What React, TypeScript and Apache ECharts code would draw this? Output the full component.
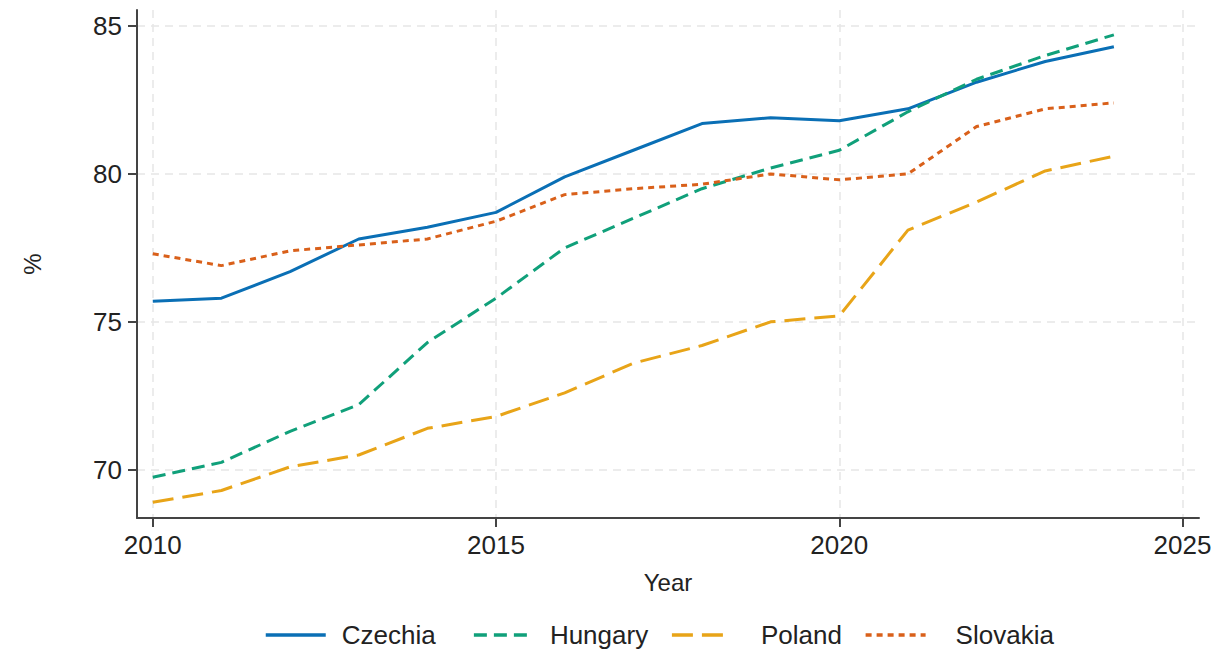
import React, { useEffect, useRef } from "react";
import * as echarts from "echarts";

const years = [2010, 2011, 2012, 2013, 2014, 2015, 2016, 2017, 2018, 2019, 2020, 2021, 2022, 2023, 2024];
const czechia = [75.7, 75.8, 76.7, 77.8, 78.2, 78.7, 79.9, 80.8, 81.7, 81.9, 81.8, 82.2, 83.1, 83.8, 84.3];
const hungary = [69.75, 70.25, 71.3, 72.2, 74.3, 75.8, 77.5, 78.5, 79.5, 80.2, 80.8, 82.1, 83.2, 84.0, 84.7];
const poland = [68.9, 69.3, 70.1, 70.5, 71.4, 71.8, 72.6, 73.6, 74.2, 75.0, 75.2, 78.1, 79.05, 80.1, 80.6];
const slovakia = [77.3, 76.9, 77.4, 77.6, 77.8, 78.4, 79.3, 79.5, 79.65, 80.0, 79.8, 80.0, 81.6, 82.2, 82.4];
const xTicks = [2010, 2015, 2020, 2025];
const yTicks = [70, 75, 80, 85];

const FONT = "'Liberation Sans', Arial, Helvetica, sans-serif";

export default function App() {
  const ref = useRef<HTMLDivElement>(null);
  useEffect(() => {
    if (!ref.current) return;
    const chart = echarts.init(ref.current, undefined, { renderer: "svg" });
    const pair = (arr: number[]) => years.map((y, i) => [y, arr[i]]);
    const mk = (name: string, arr: number[], color: string, type: any) => ({
      name,
      type: "line",
      data: pair(arr),
      symbol: "none",
      showSymbol: false,
      lineStyle: { color, width: 3, type, cap: "butt" },
      itemStyle: { color },
    });
    const trail: Record<string, string> = {
      Czechia: "\u00a0\u00a0",
      Hungary: "",
      Poland: "",
      Slovakia: "",
    };
    const lp = (l: number) => ({ padding: [0, 0, 0, l] });
    chart.setOption({
      animation: false,
      backgroundColor: "#ffffff",
      textStyle: { fontFamily: FONT },
      grid: { left: 137, right: 33, top: 10, bottom: 137, containLabel: false },
      xAxis: {
        type: "value",
        min: 2009.77,
        max: 2025.24,
        name: "Year",
        nameLocation: "middle",
        nameGap: 52,
        nameTextStyle: { fontSize: 24, color: "#222", fontFamily: FONT },
        axisLine: { show: true, lineStyle: { color: "#444", width: 2 } },
        axisTick: { show: true, length: 9, customValues: xTicks, lineStyle: { color: "#444", width: 2 } },
        axisLabel: {
          customValues: xTicks,
          fontSize: 26,
          color: "#222",
          margin: 14,
          fontFamily: FONT,
          formatter: (v: number) => String(v),
        },
        splitLine: { show: true, lineStyle: { color: "#e6e6e6", type: [8, 6], width: 1.5 } },
      },
      yAxis: {
        type: "value",
        min: 68.37,
        max: 85.54,
        name: "%",
        nameLocation: "middle",
        nameGap: 93,
        nameTextStyle: { fontSize: 24, color: "#222", fontFamily: FONT },
        axisLine: { show: true, lineStyle: { color: "#444", width: 2 } },
        axisTick: { show: true, length: 9, customValues: yTicks, lineStyle: { color: "#444", width: 2 } },
        axisLabel: {
          customValues: yTicks,
          fontSize: 26,
          color: "#222",
          margin: 15,
          fontFamily: FONT,
          formatter: (v: number) => String(v),
        },
        splitLine: { show: true, lineStyle: { color: "#e6e6e6", type: [8, 6], width: 1.5 } },
      },
      legend: {
        bottom: 7,
        left: 264,
        padding: 0,
        itemWidth: 60,
        itemHeight: 14,
        itemGap: 22,
        itemStyle: { opacity: 0, borderWidth: 0 },
        lineStyle: { width: 3.5 },
        formatter: (name: string) => name + (trail[name] || ""),
        textStyle: {
          fontSize: 26,
          color: "#222",
          fontFamily: FONT,
          padding: [0, 0, 0, 11],
        },
        data: [
          { name: "Czechia", textStyle: lp(11) },
          { name: "Hungary", textStyle: lp(11) },
          { name: "Poland", textStyle: lp(24) },
          { name: "Slovakia", textStyle: lp(25) },
        ],
      },
      series: [
        mk("Czechia", czechia, "#0a6fb5", "solid"),
        mk("Hungary", hungary, "#10a07a", [13, 7]),
        mk("Poland", poland, "#e8a418", [21, 9]),
        mk("Slovakia", slovakia, "#d9601a", [6, 5]),
      ],
    });
    return () => chart.dispose();
  }, []);
  return (
    <div
      ref={ref}
      style={{ position: "fixed", left: 0, top: 0, width: 1232, height: 655, background: "#fff" }}
    />
  );
}
